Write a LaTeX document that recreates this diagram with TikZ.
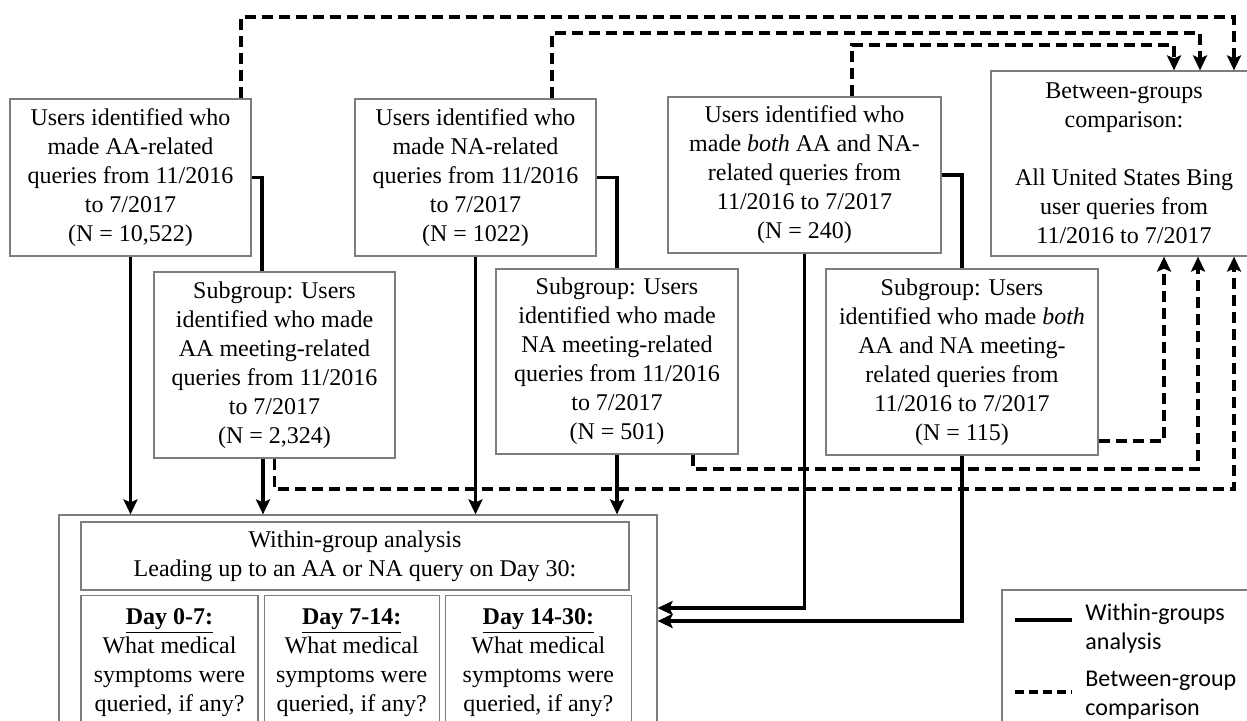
\documentclass[tikz,border=0pt]{standalone}
\usepackage{fontspec}
\setmainfont{Liberation Serif}
\newfontfamily\legendfont{Carlito}
\usetikzlibrary{positioning,arrows.meta}
\definecolor{boxgray}{RGB}{125,125,125}
\tikzset{
  box/.style={draw=boxgray, line width=0.6pt, align=center, inner sep=0pt,
    font=\fontsize{12}{14.5}\selectfont},
  legendtext/.style={anchor=west, align=left, inner sep=0pt,
    font=\legendfont\fontsize{12}{14.5}\selectfont},
  solidline/.style={line width=1.8pt},
  dashline/.style={line width=1.8pt, dash pattern=on 5.5pt off 3pt},
  tip/.style={-{Stealth[length=7.5pt,width=7pt,inset=1.5pt]}}
}
\begin{document}
\begin{tikzpicture}[x=0.5pt, y=-0.5pt]
		\useasboundingbox (0,0) rectangle (1247,720);
		\clip (0,0) rectangle (1247,720);

		\node (aa) [box, minimum width=120.5pt, minimum height=78.5pt] at (130.5,177.5)
		  {Users identified who\\made AA-related\\queries from 11/2016\\to 7/2017\\(N = 10,522)};
		\node (na) [box, minimum width=120.5pt, minimum height=78.5pt] at (475.5,177.5)
		  {Users identified who\\made NA-related\\queries from 11/2016\\to 7/2017\\(N = 1022)};
		\node (both) [box, minimum width=136.5pt, minimum height=78pt] at (804.5,175)
		  {Users identified who\\made \emph{both} AA and NA-\\related queries from\\11/2016 to 7/2017\\(N = 240)};
		\node (btw) [box, minimum width=133pt, minimum height=92.5pt] at (1124,163.5)
		  {Between-groups\\comparison:\\[14.5pt]All United States Bing\\user queries from\\11/2016 to 7/2017};
		\node (subaa) [box, minimum width=120.5pt, minimum height=93pt] at (274.5,365)
		  {Subgroup: Users\\identified who made\\AA meeting-related\\queries from 11/2016\\to 7/2017\\(N = 2,324)};
		\node (subna) [box, minimum width=121pt, minimum height=92.5pt] at (617,361.5)
		  {Subgroup: Users\\identified who made\\NA meeting-related\\queries from 11/2016\\to 7/2017\\(N = 501)};
		\node (subboth) [box, minimum width=136pt, minimum height=93pt] at (962,362)
		  {Subgroup: Users\\identified who made \emph{both}\\AA and NA meeting-\\related queries from\\11/2016 to 7/2017\\(N = 115)};

		\node (within) [box, minimum width=299pt, minimum height=110pt] at (358,625) {};
		\node (head) [box, minimum width=274pt, minimum height=34pt] at (355,556)
		  {Within-group analysis\\Leading up to an AA or NA query on Day 30:};
		\node (day1) [box, minimum width=88.5pt, minimum height=67pt, below=2pt of head.south west, anchor=north west]
		  {\textbf{\underline{Day 0-7:}}\\What medical\\symptoms were\\queried, if any?};
		\node (day2) [box, minimum width=87.5pt, minimum height=67pt, right=2.5pt of day1]
		  {\textbf{\underline{Day 7-14:}}\\What medical\\symptoms were\\queried, if any?};
		\node (day3) [box, minimum width=93pt, minimum height=67pt, right=2.5pt of day2]
		  {\textbf{\underline{Day 14-30:}}\\What medical\\symptoms were\\queried, if any?};

		\draw[solidline, tip] (aa.south) -- (aa.south |- within.north);
		\draw[solidline] (aa.east) -| (subaa.north -| 262,0);
		\draw[solidline, tip] (subaa.south -| 263,0) -- (within.north -| 263,0);
		\draw[solidline, tip] (na.south) -- (na.south |- within.north);
		\draw[solidline] (na.east) -| (subna.north);
		\draw[solidline, tip] (subna.south) -- (subna.south |- within.north);
		\draw[solidline] (both.east) -| (subboth.north);
		\draw[solidline, tip] (both.south) |- (within.east |- 0,608);
		\draw[solidline, tip] (subboth.south) |- (within.east |- 0,621);

		\draw[dashline, tip] (aa.north -| 241,0) |- (1234,17) -- (btw.north -| 1234,0);
		\draw[dashline, tip] (na.north -| 552,0) |- (1200,33) -- (btw.north -| 1200,0);
		\draw[dashline, tip] (both.north -| 852,0) |- (1174,45) -- (btw.north -| 1174,0);
		\draw[dashline, tip] (subboth.east |- 0,441) -| (btw.south -| 1164,0);
		\draw[dashline, tip] (subna.south -| 693,0) |- (1198,469) -- (btw.south -| 1198,0);
		\draw[dashline, tip] (subaa.south) |- (1234,489) -- (btw.south -| 1234,0);

		\node (legend) [box, minimum width=129pt, minimum height=75pt] at (1131,665) {};
		\node (wlabel) [legendtext] at (1085,629) {Within-groups\\analysis};
		\node (blabel) [legendtext] at (1085,695) {Between-group\\comparison};
		\coordinate (ws) at (1015,620);
		\coordinate (bs) at (1015,692);
		\draw[solidline] (ws) -- (ws -| 1072,0);
		\draw[dashline, dash pattern=on 4.5pt off 2.5pt] (bs) -- (bs -| 1072,0);
\end{tikzpicture}
\end{document}
